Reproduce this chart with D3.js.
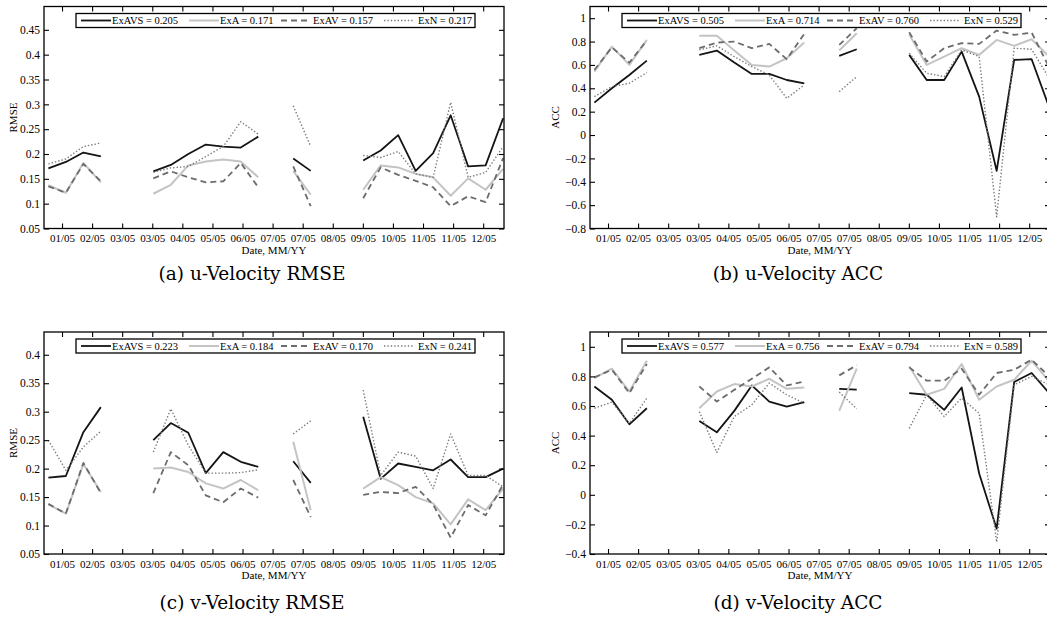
<!DOCTYPE html>
<html>
<head>
<meta charset="utf-8">
<script src="https://cdn.jsdelivr.net/npm/d3@7"></script>
<style>
    body { margin: 0; background: #fff; }
    text { font-family: "Liberation Serif", "Times New Roman", serif; fill: #000; }
    .caption { font-family: "DejaVu Serif", serif; font-size: 18.5px; }
</style>
</head>
<body>
<svg id="chart" width="1047" height="620"></svg>
<script>
// Samples are two weeks apart; null = no data for that sample
const seriesNames = ['ExAVS', 'ExA', 'ExAV', 'ExN'];

const dateLabels = ['01/05', '02/05', '03/05', '03/05', '04/05', '05/05', '06/05', '07/05',
                    '07/05', '08/05', '09/05', '10/05', '11/05', '11/05', '12/05'];

const rmseTicksU = [0.05, 0.1, 0.15, 0.2, 0.25, 0.3, 0.35, 0.4, 0.45];
const rmseTicksV = [0.05, 0.1, 0.15, 0.2, 0.25, 0.3, 0.35, 0.4];
const accTicksU = [-0.8, -0.6, -0.4, -0.2, 0, 0.2, 0.4, 0.6, 0.8, 1];
const accTicksV = [-0.4, -0.2, 0, 0.2, 0.4, 0.6, 0.8, 1];

// (a) u-velocity RMSE
const uRmseExAVS = [0.171, 0.184, 0.203, 0.195, null, null, 0.165, 0.178, 0.200, 0.219, 0.215, 0.213, 0.235, null, 0.191, 0.166, null, null, 0.187, 0.207, 0.238, 0.166, 0.202, 0.278, 0.175, 0.177, 0.272];
const uRmseExA   = [0.137, 0.122, 0.182, 0.143, null, null, 0.120, 0.138, 0.177, 0.185, 0.189, 0.185, 0.153, null, 0.166, 0.118, null, null, 0.128, 0.177, 0.173, 0.160, 0.153, 0.116, 0.151, 0.128, 0.170];
const uRmseExAV  = [0.135, 0.122, 0.180, 0.145, null, null, 0.151, 0.165, 0.153, 0.143, 0.145, 0.182, 0.133, null, 0.175, 0.095, null, null, 0.111, 0.173, 0.158, 0.146, 0.133, 0.095, 0.115, 0.103, 0.192];
const uRmseExN   = [0.180, 0.190, 0.215, 0.222, null, null, 0.163, 0.172, 0.175, 0.195, 0.215, 0.265, 0.240, null, 0.297, 0.215, null, null, 0.197, 0.193, 0.205, 0.160, 0.153, 0.304, 0.153, 0.163, 0.215];
const uRmseMeans = [0.205, 0.171, 0.157, 0.217];

// (b) u-velocity ACC
const uAccExAVS = [0.277, 0.400, 0.514, 0.637, null, null, 0.686, 0.723, 0.620, 0.523, 0.523, 0.471, 0.443, null, 0.677, 0.734, null, null, 0.686, 0.471, 0.471, 0.714, 0.329, -0.306, 0.643, 0.649, 0.237];
const uAccExA   = [0.543, 0.757, 0.600, 0.814, null, null, 0.849, 0.849, 0.723, 0.600, 0.586, 0.657, 0.791, null, 0.723, 0.871, null, null, 0.860, 0.600, 0.671, 0.743, 0.686, 0.814, 0.763, 0.820, 0.671];
const uAccExAV  = [0.557, 0.750, 0.620, 0.810, null, null, 0.743, 0.791, 0.800, 0.743, 0.780, 0.649, 0.866, null, 0.771, 0.914, null, null, 0.880, 0.629, 0.743, 0.786, 0.780, 0.894, 0.857, 0.877, 0.580];
const uAccExN   = [0.329, 0.414, 0.443, 0.534, null, null, 0.729, 0.763, 0.671, 0.586, 0.514, 0.314, 0.429, null, 0.371, 0.500, null, null, 0.700, 0.529, 0.500, 0.729, 0.671, -0.700, 0.743, 0.734, 0.486];
const uAccMeans = [0.505, 0.714, 0.760, 0.529];

// (c) v-velocity RMSE
const vRmseExAVS = [0.184, 0.187, 0.264, 0.308, null, null, 0.250, 0.280, 0.263, 0.192, 0.229, 0.212, 0.203, null, 0.213, 0.175, null, null, 0.291, 0.182, 0.209, 0.203, 0.197, 0.216, 0.185, 0.185, 0.200];
const vRmseExA   = [0.137, 0.121, 0.208, 0.159, null, null, 0.200, 0.202, 0.194, 0.174, 0.165, 0.180, 0.162, null, 0.247, 0.127, null, null, 0.165, 0.185, 0.171, 0.150, 0.139, 0.102, 0.146, 0.127, 0.165];
const vRmseExAV  = [0.138, 0.121, 0.210, 0.157, null, null, 0.157, 0.229, 0.206, 0.153, 0.141, 0.165, 0.149, null, 0.180, 0.115, null, null, 0.154, 0.159, 0.157, 0.168, 0.137, 0.079, 0.136, 0.118, 0.172];
const vRmseExN   = [0.250, 0.197, 0.238, 0.266, null, null, 0.229, 0.305, 0.241, 0.192, 0.192, 0.193, 0.198, null, 0.261, 0.284, null, null, 0.338, 0.188, 0.229, 0.222, 0.165, 0.261, 0.188, 0.188, 0.168];
const vRmseMeans = [0.223, 0.184, 0.170, 0.241];

// (d) v-velocity ACC
const vAccExAVS = [0.732, 0.642, 0.476, 0.585, null, null, 0.499, 0.422, 0.567, 0.739, 0.630, 0.596, 0.626, null, 0.716, 0.710, null, null, 0.687, 0.676, 0.574, 0.725, 0.144, -0.229, 0.762, 0.823, 0.687];
const vAccExA   = [0.789, 0.852, 0.698, 0.906, null, null, 0.585, 0.698, 0.748, 0.732, 0.784, 0.716, 0.725, null, 0.567, 0.852, null, null, 0.868, 0.676, 0.716, 0.884, 0.642, 0.732, 0.777, 0.906, 0.766];
const vAccExAV  = [0.793, 0.845, 0.687, 0.884, null, null, 0.732, 0.630, 0.709, 0.784, 0.861, 0.739, 0.766, null, 0.807, 0.875, null, null, 0.861, 0.771, 0.771, 0.852, 0.676, 0.823, 0.845, 0.913, 0.800];
const vAccExN   = [0.585, 0.626, 0.483, 0.653, null, null, 0.562, 0.286, 0.529, 0.608, 0.755, 0.676, 0.619, null, 0.694, 0.581, null, null, 0.449, 0.676, 0.529, 0.653, 0.551, -0.320, 0.743, 0.800, 0.743];
const vAccMeans = [0.577, 0.756, 0.794, 0.589];

// line styles, same order as seriesNames
const styles = [
    { color: '#141414', width: 1.8, dash: null },
    { color: '#c4c4c4', width: 2.0, dash: null },
    { color: '#6c6c6c', width: 1.8, dash: '6,4' },
    { color: '#7a7a7a', width: 1.4, dash: '1.4,2' }
];

const SERIF = '"Liberation Serif", "Times New Roman", serif';
const PW = 460, PH = 222;
const panels = [
    { left: 44,  top: 6.5, yDomain: [0.05, 0.497], yTicks: rmseTicksU, ylabel: 'RMSE', ylabOff: 27, capDy: 51,
      caption: '(a) u-Velocity RMSE', data: [uRmseExAVS, uRmseExA, uRmseExAV, uRmseExN], means: uRmseMeans },
    { left: 590, top: 6.5, yDomain: [-0.8, 1.1], yTicks: accTicksU, ylabel: 'ACC', ylabOff: 31, capDy: 51,
      caption: '(b) u-Velocity ACC', data: [uAccExAVS, uAccExA, uAccExAV, uAccExN], means: uAccMeans },
    { left: 44,  top: 332, yDomain: [0.05, 0.44], yTicks: rmseTicksV, ylabel: 'RMSE', ylabOff: 27, capDy: 55,
      caption: '(c) v-Velocity RMSE', data: [vRmseExAVS, vRmseExA, vRmseExAV, vRmseExN], means: vRmseMeans },
    { left: 590, top: 332, yDomain: [-0.4, 1.1], yTicks: accTicksV, ylabel: 'ACC', ylabOff: 31, capDy: 55,
      caption: '(d) v-Velocity ACC', data: [vAccExAVS, vAccExA, vAccExAV, vAccExN], means: vAccMeans }
];

// date ticks fall every ~1.72 samples
const tickPos = dateLabels.map((_, k) => 0.78 + 1.72 * k);

const svg = d3.select('#chart');

panels.forEach((p, pi) => drawPanel(p, pi));

function drawPanel(p, pi) {
    const x = d3.scaleLinear().domain([-0.25, 26.05]).range([p.left, p.left + PW]);
    const y = d3.scaleLinear().domain(p.yDomain).range([p.top + PH, p.top]);
    const g = svg.append('g');

    const clipId = 'clip' + pi;
    g.append('clipPath').attr('id', clipId)
        .append('rect')
        .attr('x', p.left).attr('y', p.top)
        .attr('width', PW).attr('height', PH);

    const line = d3.line()
        .defined(d => d != null)
        .x((d, i) => x(i))
        .y(d => y(d));

    const lines = g.append('g').attr('clip-path', `url(#${clipId})`);
    p.data.forEach((values, si) => {
        const st = styles[si];
        lines.append('path')
            .datum(values)
            .attr('d', line)
            .attr('fill', 'none')
            .attr('stroke', st.color)
            .attr('stroke-width', st.width)
            .attr('stroke-dasharray', st.dash)
            .attr('stroke-linejoin', 'round');
    });

    // axes, ticks pointing inward on all four sides
    const bottom = g.append('g')
        .attr('transform', `translate(0,${p.top + PH})`)
        .call(d3.axisBottom(x).tickValues(tickPos)
            .tickFormat((d, k) => dateLabels[k])
            .tickSizeInner(-5).tickSizeOuter(0).tickPadding(6));
    bottom.attr('font-family', SERIF);
    bottom.selectAll('text').style('font-size', '11px').style('font-family', SERIF);

    g.append('g')
        .attr('transform', `translate(0,${p.top})`)
        .call(d3.axisTop(x).tickValues(tickPos).tickFormat('')
            .tickSizeInner(-5).tickSizeOuter(0));

    const left = g.append('g')
        .attr('transform', `translate(${p.left},0)`)
        .call(d3.axisLeft(y).tickValues(p.yTicks)
            .tickFormat(d3.format('~g'))
            .tickSizeInner(-5).tickSizeOuter(0).tickPadding(4));
    left.attr('font-family', SERIF);
    left.selectAll('text').style('font-size', '11.5px').style('font-family', SERIF);

    g.append('g')
        .attr('transform', `translate(${p.left + PW},0)`)
        .call(d3.axisRight(y).tickValues(p.yTicks).tickFormat('')
            .tickSizeInner(-5).tickSizeOuter(0));

    g.selectAll('.domain').remove();
    g.selectAll('.tick line').attr('stroke', '#000').attr('stroke-width', 1.1);

    g.append('rect')
        .attr('x', p.left).attr('y', p.top)
        .attr('width', PW).attr('height', PH)
        .attr('fill', 'none')
        .attr('stroke', '#000')
        .attr('stroke-width', 1.3);

    // legend
    const lx = p.left + 32, ly = p.top + 7;
    const leg = g.append('g');
    leg.append('rect')
        .attr('x', lx).attr('y', ly)
        .attr('width', 399).attr('height', 14)
        .attr('fill', '#fff')
        .attr('stroke', '#000')
        .attr('stroke-width', 1.3);
    const lineX = [5, 113, 205, 308];
    const textX = [36, 144, 237, 342];
    seriesNames.forEach((name, si) => {
        const st = styles[si];
        leg.append('line')
            .attr('x1', lx + lineX[si]).attr('x2', lx + lineX[si] + 30)
            .attr('y1', ly + 7).attr('y2', ly + 7)
            .attr('stroke', st.color)
            .attr('stroke-width', st.width)
            .attr('stroke-dasharray', st.dash);
        leg.append('text')
            .attr('x', lx + textX[si])
            .attr('y', ly + 10.8)
            .style('font-family', SERIF)
            .style('font-size', '10.5px')
            .text(`${name} = ${d3.format('.3f')(p.means[si])}`);
    });

    // axis labels and caption
    g.append('text')
        .attr('x', p.left + PW / 2)
        .attr('y', p.top + PH + 25)
        .attr('text-anchor', 'middle')
        .style('font-family', SERIF)
        .style('font-size', '11px')
        .text('Date, MM/YY');

    g.append('text')
        .attr('transform', `translate(${p.left - p.ylabOff},${p.top + PH / 2}) rotate(-90)`)
        .attr('text-anchor', 'middle')
        .style('font-family', SERIF)
        .style('font-size', '11px')
        .text(p.ylabel);

    g.append('text')
        .attr('class', 'caption')
        .attr('x', p.left + PW / 2 - 22)
        .attr('y', p.top + PH + p.capDy)
        .attr('text-anchor', 'middle')
        .text(p.caption);
}
</script>
</body>
</html>
